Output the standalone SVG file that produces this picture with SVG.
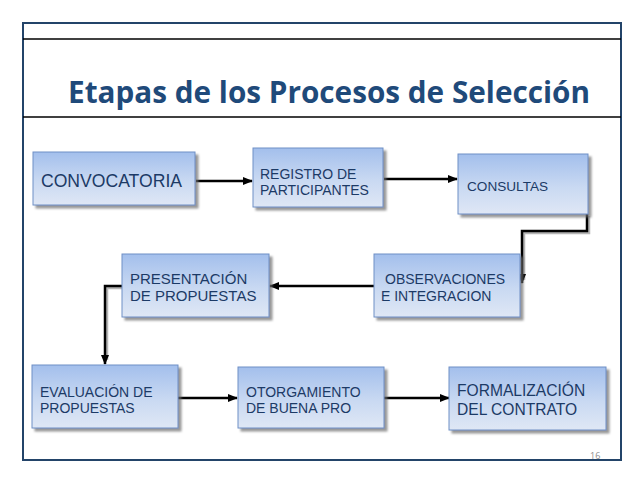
<svg xmlns="http://www.w3.org/2000/svg" width="638" height="479" viewBox="0 0 638 479">
<defs>
<linearGradient id="g" x1="0" y1="0" x2="0" y2="1">
<stop offset="0" stop-color="#a3bfec"/>
<stop offset="0.55" stop-color="#c9d9f2"/>
<stop offset="1" stop-color="#dfe7f5"/>
</linearGradient>
<filter id="sh" x="-10%" y="-10%" width="130%" height="140%">
<feDropShadow dx="3" dy="3" stdDeviation="1.2" flood-color="#6b6b6b" flood-opacity="0.7"/>
</filter>
<marker id="ah" viewBox="0 0 10 10" refX="9" refY="5" markerWidth="4" markerHeight="4" orient="auto" markerUnits="strokeWidth">
<path d="M0,1 L10,5 L0,9 z" fill="#000"/>
</marker>
</defs>
<style>
.box{fill:url(#g);stroke:#6f8fc5;stroke-width:1;filter:url(#sh)}
.t{font-family:"Liberation Sans",Arial,sans-serif;fill:#1c3a66}
.c{fill:none;stroke:#000;stroke-width:2.5}
.s{fill:none;stroke:#b5b5b5;stroke-width:2.5}
</style>
<rect width="638" height="479" fill="#fff"/>
<rect x="23" y="23" width="598" height="437" fill="none" stroke="#234469" stroke-width="2"/>
<line x1="23" y1="39" x2="621" y2="39" stroke="#000" stroke-width="1.5"/>
<line x1="23" y1="117" x2="621" y2="117" stroke="#000" stroke-width="1.5"/>
<text x="68" y="103" font-family="'Open Sans','Noto Sans',sans-serif" font-weight="bold" font-size="30" fill="#1f4a7a" textLength="522" lengthAdjust="spacingAndGlyphs">Etapas de los Procesos de Selección</text>

<g id="connectors">
<polyline class="s" points="589,216 589,233 524,233 524,280"/>
<polyline class="s" points="122,288 107,288 107,360"/>
<line class="c" x1="196" y1="181" x2="252" y2="181" marker-end="url(#ah)"/>
<line class="c" x1="384" y1="179" x2="457" y2="179" marker-end="url(#ah)"/>
<polyline class="c" points="587,214 587,231 522,231 522,283" marker-end="url(#ah)"/>
<line class="c" x1="374" y1="286" x2="270" y2="286" marker-end="url(#ah)"/>
<polyline class="c" points="122,286 105,286 105,364" marker-end="url(#ah)"/>
<line class="c" x1="178" y1="398" x2="237" y2="398" marker-end="url(#ah)"/>
<line class="c" x1="384" y1="398" x2="449" y2="398" marker-end="url(#ah)"/>
</g>

<g id="convocatoria">
<rect class="box" x="33" y="152" width="162" height="53"/>
<text class="t" x="41" y="187" font-size="18" textLength="141" lengthAdjust="spacingAndGlyphs">CONVOCATORIA</text>
</g>
<g id="registro">
<rect class="box" x="253" y="148" width="130" height="59"/>
<text class="t" x="260" y="179" font-size="14">REGISTRO DE</text>
<text class="t" x="260" y="195" font-size="14">PARTICIPANTES</text>
</g>
<g id="consultas">
<rect class="box" x="458" y="154" width="130" height="60"/>
<text class="t" x="467" y="191" font-size="13.6">CONSULTAS</text>
</g>
<g id="observaciones">
<rect class="box" x="374" y="254" width="146" height="63"/>
<text class="t" x="385" y="284" font-size="14">OBSERVACIONES</text>
<text class="t" x="381" y="301" font-size="14">E INTEGRACION</text>
</g>
<g id="presentacion">
<rect class="box" x="122" y="254" width="147" height="63"/>
<text class="t" x="130" y="284" font-size="15">PRESENTACIÓN</text>
<text class="t" x="130" y="301" font-size="15">DE PROPUESTAS</text>
</g>
<g id="evaluacion">
<rect class="box" x="32" y="365" width="146" height="63"/>
<text class="t" x="40" y="397" font-size="14">EVALUACIÓN DE</text>
<text class="t" x="40" y="413" font-size="14">PROPUESTAS</text>
</g>
<g id="otorgamiento">
<rect class="box" x="238" y="367" width="146" height="61"/>
<text class="t" x="246" y="397" font-size="14">OTORGAMIENTO</text>
<text class="t" x="246" y="413" font-size="14">DE BUENA PRO</text>
</g>
<g id="formalizacion">
<rect class="box" x="449" y="367" width="157" height="63"/>
<text class="t" x="457" y="396" font-size="15.6">FORMALIZACIÓN</text>
<text class="t" x="457" y="415" font-size="15.6">DEL CONTRATO</text>
</g>
<text x="590" y="459" font-family="'Open Sans',sans-serif" font-size="9" fill="#8c8c8c">16</text>
</svg>
